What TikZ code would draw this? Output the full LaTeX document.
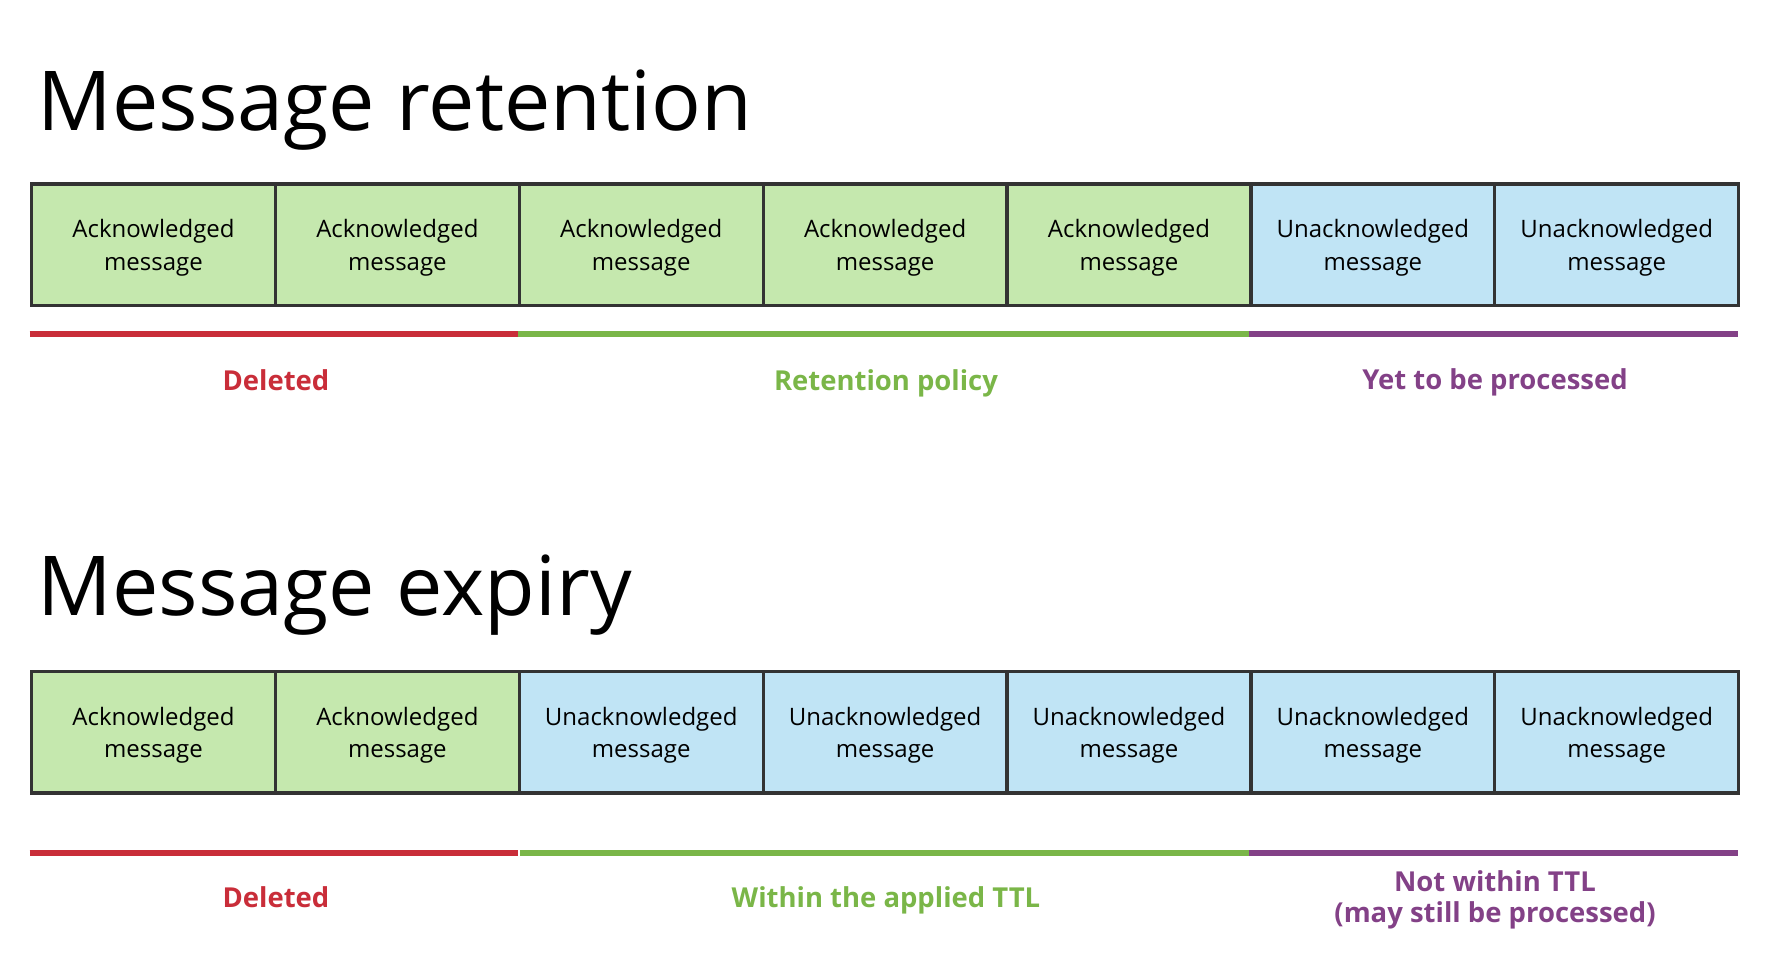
\documentclass[tikz,border=0pt]{standalone}
\usepackage{fontspec}
\setmainfont{Open Sans}
\usetikzlibrary{positioning}

\definecolor{ackfill}{RGB}{197,232,174}
\definecolor{unackfill}{RGB}{192,228,245}
\definecolor{boxline}{RGB}{51,51,51}
\definecolor{delred}{RGB}{201,45,57}
\definecolor{keepgreen}{RGB}{122,182,72}
\definecolor{waitpurple}{RGB}{131,65,135}

\tikzset{
  msgbox/.style={draw=boxline, line width=2.5pt, minimum width=182.9pt, minimum height=91.3pt,
    inner sep=0pt, outer sep=0pt, align=center, text depth=-1.4pt, font=\fontsize{18}{24.5}\selectfont},
  ack/.style={msgbox, fill=ackfill},
  unack/.style={msgbox, fill=unackfill},
  bigtitle/.style={anchor=base west, inner sep=0pt, font=\fontsize{62}{70}\selectfont},
  barlabel/.style={anchor=base, inner sep=0pt, align=center, font=\fontsize{20.6}{23}\selectfont\bfseries},
  bar/.style={line width=5.2pt}
}

\begin{document}
\begin{tikzpicture}[x=0.75pt,y=0.75pt,yscale=-1,xscale=1]
        \useasboundingbox (0,0) rectangle (1769,965);

        % Message retention
        \node[bigtitle] (rettitle) at (37.5,130) {Message retention};

        \node[ack] (ret1) at (153.5,244.9) {Acknowledged\\message};
        \node[ack, right=0pt of ret1] (ret2) {Acknowledged\\message};
        \node[ack, right=0pt of ret2] (ret3) {Acknowledged\\message};
        \node[ack, right=0pt of ret3] (ret4) {Acknowledged\\message};
        \node[ack, right=0pt of ret4] (ret5) {Acknowledged\\message};
        \node[unack, right=0pt of ret5] (ret6) {Unacknowledged\\message};
        \node[unack, right=0pt of ret6] (ret7) {Unacknowledged\\message};

        %Straight Lines
        \draw[bar, delred] (29.5,334) -- (518,334) ;
        \draw[bar, keepgreen] (518,334) -- (1249,334) ;
        \draw[bar, waitpurple] (1249,334) -- (1738,334) ;

        % Text Node
        \node[barlabel, delred] (retdel) at (276,390) {Deleted};
        \node[barlabel, keepgreen] (retkeep) at (886,390) {Retention policy};
        \node[barlabel, waitpurple] (retwait) at (1495,389) {Yet to be processed};

        % Message expiry
        \node[bigtitle] (exptitle) at (37.5,615) {Message expiry};

        \node[ack] (exp1) at (153.5,732.2) {Acknowledged\\message};
        \node[ack, right=0pt of exp1] (exp2) {Acknowledged\\message};
        \node[unack, right=0pt of exp2] (exp3) {Unacknowledged\\message};
        \node[unack, right=0pt of exp3] (exp4) {Unacknowledged\\message};
        \node[unack, right=0pt of exp4] (exp5) {Unacknowledged\\message};
        \node[unack, right=0pt of exp5] (exp6) {Unacknowledged\\message};
        \node[unack, right=0pt of exp6] (exp7) {Unacknowledged\\message};

        %Straight Lines
        \draw[bar, delred] (29.5,853) -- (518,853) ;
        \draw[bar, keepgreen] (520,853) -- (1249,853) ;
        \draw[bar, waitpurple] (1249,853) -- (1738,853) ;

        % Text Node
        \node[barlabel, delred] (expdel) at (276,907) {Deleted};
        \node[barlabel, keepgreen] (expkeep) at (886,907) {Within the applied TTL};
        \node[barlabel, waitpurple] (expwait) at (1495,922) {Not within TTL\\(may still be processed)};
\end{tikzpicture}
\end{document}
